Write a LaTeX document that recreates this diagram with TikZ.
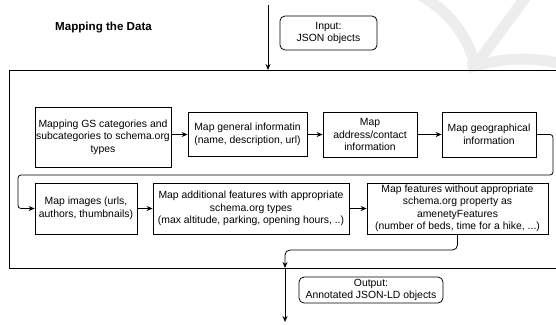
\documentclass[tikz,border=0pt]{standalone}
\usepackage{fontspec}
\setmainfont{Liberation Sans}
\usetikzlibrary{arrows.meta}
\begin{document}
\begin{tikzpicture}[x=1pt,y=-1pt,
  box/.style={draw=black,line width=0.8pt,align=center,inner sep=0pt,
    font=\fontsize{10.4}{12.5}\selectfont},
  rbox/.style={box,rounded corners=5pt},
  arr/.style={line width=0.8pt,-{Stealth[length=6pt,width=5pt]}},
  line/.style={line width=0.8pt},
  wmark/.style={line width=11pt,color=black!7,line cap=butt}]
\useasboundingbox (0,0) rectangle (556,324);
% watermark
\draw[wmark] (418,-6) .. controls (452,12) and (470,40) .. (476,70);
\draw[wmark] (528,-6) -- (478,62);
\draw[wmark] (468,68) .. controls (500,58) and (530,56) .. (562,64);
% title
\node[font=\bfseries\fontsize{11.6}{13}\selectfont] (title) at (103.5,28) {Mapping the Data};
% frame
\draw[line] (560,70) -- (9,70) -- (9,268) -- (560,268);
% input / output
\node[rbox,minimum width=97pt,minimum height=34pt] (in) at (328.5,33) {Input:\\JSON objects};
\node[rbox,minimum width=144pt,minimum height=26pt] (out) at (371,290) {Output:\\Annotated JSON-LD objects};
% steps
\node[box,minimum width=136pt,minimum height=60pt] (b1) at (103,137) {Mapping GS categories and\\subcategories to schema.org\\types};
\node[box,minimum width=119pt,minimum height=44pt] (b2) at (247.5,134.5) {Map general informatin\\(name, description, url)};
\node[box,minimum width=94pt,minimum height=45pt] (b3) at (370,134.5) {Map\\address/contact\\information};
\node[box,minimum width=94pt,minimum height=45pt] (b4) at (489,134.5) {Map geographical\\information};
\node[box,minimum width=102pt,minimum height=51pt] (b5) at (86,208.5) {Map images (urls,\\authors, thumbnails)};
\node[box,minimum width=196pt,minimum height=51pt] (b6) at (251,208.5) {Map additional features with appropriate\\schema.org types\\(max altitude, parking, opening hours, ..)};
\node[box,minimum width=181pt,minimum height=51pt] (b7) at (457.5,208.5) {Map features without appropriate\\schema.org property as\\amenetyFeatures\\(number of beds, time for a hike, ...)};
% coordinates
\coordinate (t0) at (268,5);
\coordinate (t1) at (268,70);
\coordinate (c1) at (553,175);
\coordinate (c2) at (18,175);
\coordinate (k) at (285,250);
\coordinate (fb) at (285,268);
\coordinate (e) at (285,322);
% connectors
\draw[arr] (t0) -- (t1);
\draw[arr] (b1.east |- b2.west) -- (b2.west);
\draw[arr] (b2) -- (b3);
\draw[arr] (b3) -- (b4);
\draw[arr,rounded corners=3pt] (b4.east) -| (c1) -- (c2) |- (b5.west);
\draw[arr] (b5) -- (b6);
\draw[arr] (b6) -- (b7);
\draw[arr,rounded corners=5pt] (b7.south) |- (k) -- (fb);
\draw[arr] (fb) -- (e);
\end{tikzpicture}
\end{document}
